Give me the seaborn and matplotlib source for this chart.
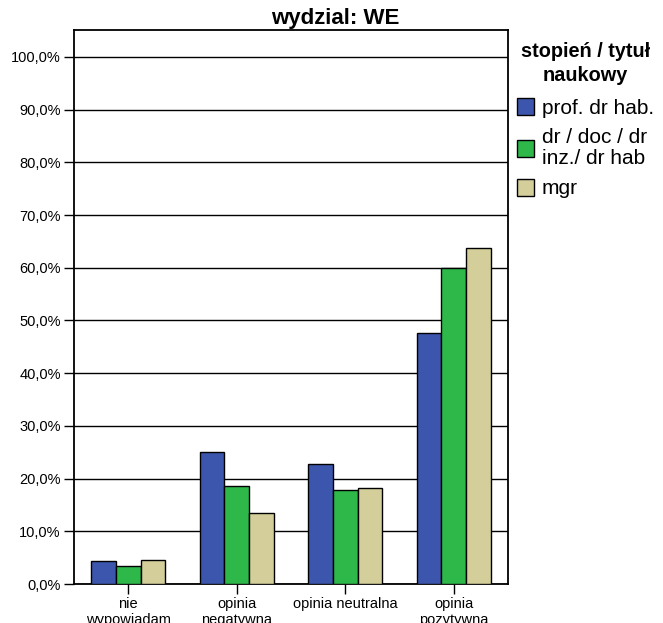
import matplotlib
matplotlib.use("Agg")
import matplotlib.pyplot as plt
import seaborn as sns
import pandas as pd
from matplotlib.ticker import FuncFormatter, MultipleLocator
from matplotlib.patches import Patch

categories = ["nie\nwypowiadam\nsię", "opinia\nnegatywna", "opinia neutralna", "opinia\npozytywna"]
series = ["prof. dr hab.", "dr / doc / dr\ninz./ dr hab", "mgr"]
prof = [4.4, 25.0, 22.8, 47.6]
dr = [3.4, 18.6, 17.8, 60.0]
mgr = [4.6, 13.5, 18.2, 63.8]
colors = ["#3d56ad", "#2eb84a", "#d4cf9a"]

rows = []
for s, vals in zip(series, [prof, dr, mgr]):
    for c, v in zip(categories, vals):
        rows.append({"kat": c, "stopien": s, "val": v})
df = pd.DataFrame(rows)

sns.set_style("white")
plt.rcParams["font.family"] = ["Liberation Sans", "DejaVu Sans"]
plt.rcParams["text.color"] = "black"
plt.rcParams["xtick.color"] = "black"
plt.rcParams["ytick.color"] = "black"
plt.rcParams["axes.labelcolor"] = "black"

fig = plt.figure(figsize=(6.63, 6.23), dpi=100)
ax = fig.add_axes([74/663, 1-584/623, 434/663, 554/623])

sns.barplot(data=df, x="kat", y="val", hue="stopien", order=categories,
            hue_order=series, palette=colors, width=0.68, dodge=True,
            edgecolor="black", linewidth=1.0, saturation=1, ax=ax, zorder=3,
            legend=False)

ax.set_xlim(-0.5, 3.5)
ax.set_ylim(0, 105.1)
ax.yaxis.set_major_locator(MultipleLocator(10))
ax.yaxis.set_major_formatter(FuncFormatter(lambda v, p: f"{v:.1f}%".replace(".", ",")))
ax.grid(axis="y", color="black", linewidth=1.0, zorder=0)
ax.grid(axis="x", visible=False)
ax.set_axisbelow(True)
for sp in ax.spines.values():
    sp.set_visible(True)
    sp.set_color("black")
    sp.set_linewidth(1.3)
ax.tick_params(axis="both", direction="out", length=7.5, width=1.0, color="black",
               labelcolor="black", labelsize=10.5, pad=2, bottom=True, left=True)
ax.set_xlabel("")
ax.set_ylabel("")

fig.text(0.505, 0.97, "wydzial: WE", ha="center", va="center", fontsize=16,
         fontweight="bold", color="black")

handles = [Patch(facecolor=c, edgecolor="black", linewidth=1.0) for c in colors]
leg = fig.legend(handles, series, loc="upper left", bbox_to_anchor=(517/663, 1-42/623),
                 frameon=False, fontsize=15, title="stopień / tytuł\nnaukowy",
                 title_fontproperties={"weight": "bold", "size": 14.3},
                 handlelength=0.8, handleheight=0.9, handletextpad=0.4,
                 borderaxespad=0, labelspacing=0.5, borderpad=0)
leg._legend_box.align = "center"
leg.get_title().set_multialignment("center")
leg.get_title().set_linespacing(1.35)
leg.get_title().set_color("black")
for t in leg.get_texts():
    t.set_color("black")
    t.set_linespacing(1.15)
leg._legend_box.sep = 9

fig.savefig("out.png", dpi=100)
